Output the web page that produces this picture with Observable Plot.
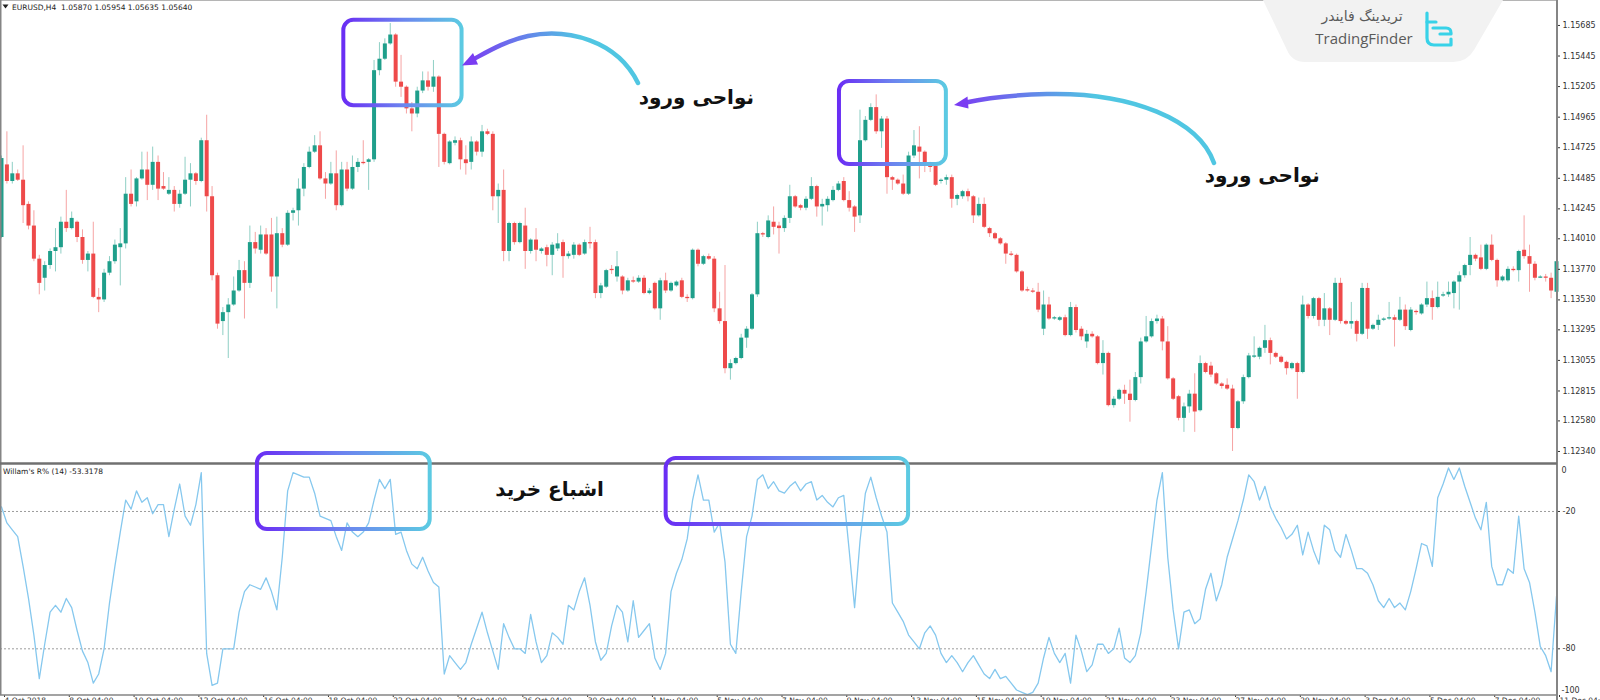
<!DOCTYPE html>
<html><head><meta charset="utf-8">
<script src="https://cdn.jsdelivr.net/npm/d3@7"></script>
<script src="https://cdn.jsdelivr.net/npm/@observablehq/plot@0.6"></script>
<style>
html,body{margin:0;padding:0;background:#fff;overflow:hidden;}
#wrap{position:relative;width:1600px;height:700px;overflow:hidden;background:#fff;}
#price{position:absolute;left:0;top:0;}
#ind{position:absolute;left:0;top:464px;}
#over{position:absolute;left:0;top:0;pointer-events:none;}
</style></head><body>
<div id="wrap"><div id="price"></div><div id="ind"></div><svg id="over" width="1600" height="700"></svg></div>
<script>
// ---------- data ----------
const symbolHeader = "EURUSD,H4  1.05870 1.05954 1.05635 1.05640";
const indicatorName = "Willam's R% (14) -53.3178";

const open = [
1.1402,1.1459,1.1446,1.1452,1.1447,1.1428,1.1411,1.1385,1.1370,1.1380,
1.1391,1.1394,1.1414,1.1409,1.1414,1.1402,1.1384,1.1389,1.1355,1.1353,
1.1374,1.1383,1.1394,1.1397,1.1436,1.1430,1.1448,1.1455,1.1443,1.1461,
1.1442,1.1436,1.1439,1.1428,1.1436,1.1447,1.1452,1.1446,1.1478,1.1434,
1.1372,1.1336,1.1343,1.1349,1.1360,1.1376,1.1366,1.1398,1.1392,1.1404,
1.1404,1.1371,1.1405,1.1396,1.1421,1.1423,1.1440,1.1457,1.1469,1.1474,
1.1448,1.1444,1.1452,1.1427,1.1455,1.1440,1.1457,1.1461,1.1461,1.1463,
1.1533,1.1542,1.1554,1.1561,1.1524,1.1520,1.1503,1.1499,1.1517,1.1525,
1.1520,1.1528,1.1483,1.1460,1.1476,1.1478,1.1463,1.1461,1.1477,1.1469,
1.1485,1.1483,1.1434,1.1439,1.1391,1.1413,1.1398,1.1411,
1.1391,1.1400,1.1391,1.1394,1.1388,1.1393,1.1398,1.1387,1.1388,1.1396,
1.1389,1.1398,1.1398,1.1358,1.1363,1.1377,1.1371,1.1371,1.1360,1.1368,
1.1367,1.1370,1.1358,1.1366,1.1346,1.1368,1.1360,1.1364,1.1368,1.1355,
1.1354,1.1392,1.1381,1.1387,1.1385,1.1346,1.1336,1.1299,1.1303,1.1307,
1.1323,1.1330,1.1357,1.1405,1.1402,1.1414,1.1411,1.1409,1.1417,1.1434,
1.1427,1.1425,1.1432,1.1442,1.1426,1.1427,1.1431,1.1439,1.1446,1.1431,
1.1426,1.1419,1.1478,1.1494,1.1504,1.1485,1.1495,1.1449,1.1447,1.1444,
1.1436,1.1466,1.1473,1.1469,1.1460,1.1458,1.1446,1.1447,1.1449,1.1432,
1.1434,1.1438,1.1434,1.1419,1.1428,1.1409,1.1405,1.1401,1.1397,1.1389,
1.1388,1.1375,1.1361,1.1360,1.1359,1.1330,
1.1349,1.1338,1.1337,1.1339,1.1325,1.1347,1.1330,1.1320,1.1326,1.1324,
1.1303,1.1311,1.1270,1.1275,1.1282,1.1279,1.1274,1.1292,1.1320,1.1324,
1.1336,1.1338,1.1320,1.1291,1.1277,1.1260,1.1269,1.1279,1.1266,1.1303,
1.1301,1.1295,1.1287,1.1286,1.1283,1.1252,1.1273,1.1292,1.1308,1.1308,
1.1315,1.1321,1.1311,1.1308,1.1304,1.1299,1.1303,1.1296,1.1349,1.1340,
1.1354,1.1337,1.1346,1.1337,1.1366,1.1336,1.1334,1.1336,1.1326,1.1362,
1.1330,1.1333,1.1337,1.1338,1.1339,1.1337,1.1345,1.1329,1.1344,1.1342,
1.1349,1.1354,1.1347,1.1356,1.1357,1.1358,1.1367,1.1372,1.1380,1.1388,
1.1386,1.1377,1.1396,1.1384,1.1368,1.1368,1.1377,1.1376,1.1392,1.1387,
1.1381,1.1370,1.1371,1.1370,1.1359];

const high = [
1.1466,1.1485,1.1461,1.1455,1.1474,1.1430,1.1423,1.1388,1.1383,1.1393,
1.1409,1.1418,1.1439,1.1422,1.1415,1.1408,1.1391,1.1414,1.1362,1.1377,
1.1387,1.1400,1.1409,1.1449,1.1455,1.1449,1.1469,1.1469,1.1473,1.1466,
1.1453,1.1449,1.1442,1.1439,1.1465,1.1460,1.1453,1.1480,1.1498,1.1442,
1.1374,1.1347,1.1354,1.1371,1.1384,1.1383,1.1411,1.1406,1.1411,1.1409,
1.1417,1.1418,1.1409,1.1423,1.1425,1.1448,1.1460,1.1473,1.1482,1.1485,
1.1453,1.1461,1.1470,1.1461,1.1461,1.1466,1.1464,1.1478,1.1464,1.1541,
1.1555,1.1558,1.1570,1.1562,1.1545,1.1521,1.1508,1.1520,1.1532,1.1532,
1.1541,1.1529,1.1484,1.1478,1.1481,1.1480,1.1474,1.1481,1.1478,1.1490,
1.1487,1.1485,1.1444,1.1455,1.1414,1.1414,1.1414,1.1425,
1.1401,1.1409,1.1394,1.1396,1.1398,1.1405,1.1400,1.1391,1.1398,1.1397,
1.1400,1.1410,1.1400,1.1366,1.1377,1.1380,1.1391,1.1372,1.1370,1.1371,
1.1372,1.1372,1.1362,1.1367,1.1370,1.1374,1.1367,1.1368,1.1370,1.1357,
1.1393,1.1393,1.1388,1.1389,1.1387,1.1359,1.1380,1.1306,1.1308,1.1326,
1.1332,1.1358,1.1414,1.1406,1.1419,1.1426,1.1414,1.1419,1.1443,1.1435,
1.1428,1.1434,1.1449,1.1443,1.1432,1.1434,1.1442,1.1446,1.1449,1.1438,
1.1427,1.1502,1.1497,1.1507,1.1514,1.1497,1.1497,1.1450,1.1448,1.1451,
1.1469,1.1486,1.1489,1.1470,1.1461,1.1460,1.1448,1.1451,1.1451,1.1436,
1.1439,1.1440,1.1435,1.1433,1.1433,1.1410,1.1406,1.1402,1.1398,1.1391,
1.1389,1.1376,1.1363,1.1362,1.1366,1.1360,
1.1355,1.1340,1.1340,1.1341,1.1351,1.1349,1.1332,1.1329,1.1328,1.1325,
1.1321,1.1312,1.1277,1.1283,1.1286,1.1290,1.1296,1.1323,1.1340,1.1338,
1.1341,1.1340,1.1332,1.1292,1.1278,1.1272,1.1282,1.1295,1.1309,1.1304,
1.1304,1.1296,1.1288,1.1291,1.1286,1.1274,1.1294,1.1311,1.1324,1.1316,
1.1333,1.1323,1.1312,1.1309,1.1305,1.1304,1.1304,1.1356,1.1350,1.1355,
1.1355,1.1358,1.1347,1.1370,1.1370,1.1337,1.1351,1.1337,1.1366,1.1366,
1.1334,1.1341,1.1339,1.1351,1.1341,1.1355,1.1349,1.1347,1.1345,1.1350,
1.1367,1.1360,1.1367,1.1359,1.1367,1.1368,1.1375,1.1381,1.1402,1.1389,
1.1396,1.1397,1.1404,1.1385,1.1372,1.1379,1.1379,1.1392,1.1419,1.1396,
1.1383,1.1372,1.1373,1.1374,1.1386];

const low = [
1.1401,1.1444,1.1444,1.1446,1.1413,1.1408,1.1383,1.1357,1.1360,1.1377,
1.1375,1.1389,1.1406,1.1408,1.1398,1.1381,1.1375,1.1354,1.1343,1.1351,
1.1372,1.1381,1.1364,1.1393,1.1426,1.1426,1.1447,1.1431,1.1439,1.1431,
1.1439,1.1435,1.1422,1.1425,1.1435,1.1426,1.1443,1.1445,1.1422,1.1368,
1.1330,1.1325,1.1307,1.1348,1.1359,1.1338,1.1362,1.1389,1.1389,1.1388,
1.1359,1.1346,1.1394,1.1395,1.1415,1.1411,1.1434,1.1456,1.1468,1.1447,
1.1432,1.1443,1.1423,1.1426,1.1438,1.1439,1.1453,1.1459,1.1439,1.1461,
1.1529,1.1541,1.1553,1.1520,1.1512,1.1499,1.1485,1.1496,1.1515,1.1517,
1.1516,1.1457,1.1459,1.1459,1.1474,1.1455,1.1451,1.1455,1.1466,1.1465,
1.1482,1.1423,1.1413,1.1383,1.1383,1.1396,1.1397,1.1377,
1.1389,1.1383,1.1389,1.1379,1.1372,1.1391,1.1370,1.1385,1.1385,1.1387,
1.1388,1.1393,1.1354,1.1354,1.1362,1.1373,1.1367,1.1357,1.1359,1.1366,
1.1366,1.1357,1.1357,1.1345,1.1337,1.1358,1.1359,1.1363,1.1354,1.1351,
1.1353,1.1379,1.1380,1.1384,1.1343,1.1334,1.1295,1.1290,1.1302,1.1306,
1.1315,1.1329,1.1355,1.1402,1.1401,1.1404,1.1389,1.1406,1.1413,1.1425,
1.1423,1.1423,1.1431,1.1418,1.1411,1.1422,1.1430,1.1438,1.1430,1.1422,
1.1406,1.1413,1.1477,1.1493,1.1483,1.1472,1.1436,1.1439,1.1443,1.1435,
1.1435,1.1464,1.1448,1.1453,1.1453,1.1442,1.1444,1.1443,1.1425,1.1427,
1.1432,1.1430,1.1413,1.1418,1.1409,1.1402,1.1400,1.1396,1.1381,1.1387,
1.1374,1.1359,1.1359,1.1358,1.1343,1.1325,
1.1337,1.1337,1.1336,1.1324,1.1324,1.1327,1.1321,1.1315,1.1323,1.1302,
1.1294,1.1269,1.1268,1.1274,1.1271,1.1257,1.1273,1.1287,1.1319,1.1323,
1.1334,1.1313,1.1290,1.1274,1.1258,1.1249,1.1264,1.1249,1.1265,1.1295,
1.1292,1.1286,1.1283,1.1282,1.1234,1.1251,1.1271,1.1291,1.1307,1.1306,
1.1311,1.1302,1.1307,1.1303,1.1294,1.1298,1.1275,1.1295,1.1338,1.1338,
1.1332,1.1332,1.1325,1.1336,1.1334,1.1333,1.1330,1.1320,1.1325,1.1322,
1.1329,1.1329,1.1336,1.1337,1.1316,1.1336,1.1329,1.1328,1.1341,1.1341,
1.1347,1.1337,1.1346,1.1355,1.1355,1.1346,1.1345,1.1370,1.1372,1.1383,
1.1376,1.1376,1.1383,1.1363,1.1367,1.1367,1.1375,1.1367,1.1385,1.1359,
1.1368,1.1370,1.1367,1.1354,1.1357];

const close = [
1.1464,1.1446,1.1452,1.1447,1.1427,1.1411,1.1385,1.1366,1.1380,1.1391,
1.1394,1.1414,1.1409,1.1417,1.1402,1.1384,1.1389,1.1355,1.1353,1.1374,
1.1383,1.1396,1.1397,1.1436,1.1428,1.1448,1.1455,1.1443,1.1461,1.1440,
1.1440,1.1439,1.1428,1.1436,1.1447,1.1452,1.1446,1.1478,1.1434,1.1372,
1.1334,1.1343,1.1349,1.1360,1.1376,1.1366,1.1398,1.1393,1.1404,1.1389,
1.1371,1.1405,1.1396,1.1421,1.1423,1.1440,1.1457,1.1469,1.1474,1.1448,
1.1444,1.1452,1.1427,1.1455,1.1440,1.1457,1.1461,1.1460,1.1463,1.1533,
1.1542,1.1554,1.1561,1.1524,1.1520,1.1503,1.1499,1.1517,1.1525,1.1520,
1.1528,1.1483,1.1461,1.1477,1.1478,1.1463,1.1460,1.1477,1.1469,1.1485,
1.1483,1.1434,1.1439,1.1391,1.1413,1.1398,1.1413,1.1391,
1.1400,1.1392,1.1393,1.1388,1.1396,1.1397,1.1387,1.1389,1.1396,1.1388,
1.1398,1.1397,1.1358,1.1364,1.1376,1.1376,1.1379,1.1360,1.1368,1.1367,
1.1370,1.1358,1.1360,1.1346,1.1368,1.1360,1.1366,1.1367,1.1355,1.1354,
1.1392,1.1381,1.1387,1.1385,1.1346,1.1336,1.1299,1.1303,1.1307,1.1323,
1.1330,1.1357,1.1405,1.1404,1.1415,1.1410,1.1409,1.1417,1.1434,1.1426,
1.1425,1.1432,1.1442,1.1426,1.1428,1.1432,1.1439,1.1444,1.1431,1.1425,
1.1418,1.1478,1.1494,1.1504,1.1485,1.1495,1.1449,1.1447,1.1444,1.1436,
1.1466,1.1474,1.1469,1.1460,1.1457,1.1443,1.1447,1.1449,1.1432,1.1435,
1.1438,1.1434,1.1419,1.1428,1.1410,1.1405,1.1401,1.1397,1.1389,1.1388,
1.1375,1.1360,1.1360,1.1359,1.1345,1.1349,
1.1338,1.1339,1.1339,1.1325,1.1347,1.1329,1.1324,1.1326,1.1324,1.1303,
1.1311,1.1270,1.1275,1.1282,1.1279,1.1274,1.1292,1.1320,1.1324,1.1336,
1.1338,1.1320,1.1291,1.1275,1.1260,1.1269,1.1279,1.1265,1.1303,1.1296,
1.1294,1.1287,1.1285,1.1283,1.1252,1.1273,1.1292,1.1309,1.1309,1.1315,
1.1321,1.1311,1.1308,1.1304,1.1299,1.1303,1.1296,1.1349,1.1340,1.1354,
1.1337,1.1346,1.1337,1.1366,1.1336,1.1334,1.1336,1.1326,1.1362,1.1330,
1.1333,1.1337,1.1338,1.1339,1.1337,1.1345,1.1332,1.1345,1.1343,1.1349,
1.1354,1.1347,1.1355,1.1357,1.1359,1.1367,1.1372,1.1380,1.1388,1.1385,
1.1377,1.1396,1.1384,1.1368,1.1371,1.1377,1.1376,1.1391,1.1387,1.1381,
1.1370,1.1371,1.1370,1.1360,1.1383];

// Williams %R (14), one value per candle
const wpr = [
-18,-25,-28,-31,-44,-58,-74,-93,-78,-64,
-61,-64,-58,-62,-72,-81,-86,-95,-91,-80,
-60,-44,-29,-15,-19,-11,-16,-14,-21,-17,
-17,-31,-19,-8,-22,-26,-17,-3,-82,-96,
-95,-80,-80,-80,-64,-55,-52,-53,-54,-49,
-55,-63,-40,-11,-3,-4,-5,-5,-12,-22,
-23,-24,-31,-37,-25,-29,-31,-29,-25,-15,
-6,-10,-6,-30,-29,-37,-43,-45,-40,-46,
-51,-53,-91,-83,-86,-89,-86,-78,-71,-64,
-73,-81,-89,-69,-75,-80,-80,-82,-65,-77,
-86,-83,-73,-75,-78,-61,-63,-55,-49,-61,
-77,-85,-82,-70,-61,-64,-77,-59,-75,-72,
-69,-84,-89,-82,-55,-47,-41,-32,-15,-4,
-15,-15,-29,-25,-42,-78,-82,-55,-31,-22,
-6,-4,-10,-7,-11,-12,-9,-7,-11,-8,
-7,-15,-13,-16,-18,-14,-13,-37,-62,-33,
-12,-5,-14,-22,-29,-60,-64,-68,-74,-77,
-80,-73,-70,-74,-82,-86,-83,-86,-90,-86,
-83,-87,-91,-93,-89,-93,-92,-95,-98,-99,
-100,-99,-95,-84,-75,-82,-86,-82,-95,-74,
-81,-90,-87,-78,-78,-82,-80,-71,-84,-86,
-83,-73,-55,-35,-15,-3,-40,-63,-80,-64,
-63,-69,-67,-54,-47,-59,-52,-40,-32,-24,
-15,-4,-7,-15,-9,-18,-23,-27,-32,-30,
-26,-39,-29,-37,-43,-26,-28,-37,-40,-30,
-37,-45,-45,-47,-52,-59,-62,-58,-62,-60,
-63,-55,-45,-34,-35,-44,-14,-8,-1,-6,
-1,-9,-16,-23,-28,-16,-44,-52,-52,-45,
-47,-22,-45,-51,-64,-79,-83,-90,-57];

const priceTicks = [1.15685,1.15445,1.15205,1.14965,1.14725,1.14485,1.14245,1.14010,
  1.13770,1.13530,1.13295,1.13055,1.12815,1.12580,1.12340];
const wprLevels = [-20, -80];
const wprTopLabel = [0];
const wprBottomLabel = [-100];
const dateTickIndex = [0,12,24,36,48,60,72,84,96,108,120,132,144,156,168,180,192,204,216,228,240,252,264,276,288];
const dateTickLabels = ["4 Oct 2018","8 Oct 04:00","10 Oct 04:00","12 Oct 04:00","16 Oct 04:00","18 Oct 04:00",
  "22 Oct 04:00","24 Oct 04:00","26 Oct 04:00","30 Oct 04:00","1 Nov 04:00","5 Nov 04:00","7 Nov 04:00",
  "9 Nov 04:00","13 Nov 04:00","15 Nov 04:00","19 Nov 04:00","21 Nov 04:00","23 Nov 04:00","27 Nov 04:00",
  "29 Nov 04:00","3 Dec 04:00","5 Dec 04:00","7 Dec 04:00","11 Dec 04:00"];

// annotation boxes (candle index range, value range) and labels
const boxPane = ["price","price","ind","ind"];
const boxFrom = [63.4, 155.2, 47.4, 123.1];
const boxTo   = [85.3, 175.0, 79.4, 168.0];
const boxHigh = [1.15725, 1.15245, 5.3, 3.2];
const boxLow  = [1.15055, 1.14593, -27.9, -25.7];
const noteText = ["نواحی ورود", "نواحی ورود", "اشباع خرید"];
const notePane = ["price","price","ind"];
const noteIndex = [128.8, 233.6, 101.6];
const noteValue = [1.15119, 1.14503, -10.4];

// ---------- build ----------
const GREEN = "#1f9f8b", RED = "#ee4a4a", LINE = "#86c8ee", AX = "#333";
const candles = open.map((o, i) => ({i, o, h: high[i], l: low[i], c: close[i]}));
const ups = candles.filter(d => d.c >= d.o);
const downs = candles.filter(d => d.c < d.o);
const N = candles.length;
const xOpts = {domain: [0, N - 1], range: [1, 1556], label: null};
const baseStyle = {background: "transparent", fontFamily: "DejaVu Sans", fontSize: "8px", color: AX};

const price = Plot.plot({
  width: 1600, height: 464,
  marginTop: 0, marginRight: 44, marginBottom: 0, marginLeft: 0,
  x: {...xOpts, axis: null},
  y: {domain: [1.122377, 1.15881], range: [464, 0], label: null},
  style: baseStyle,
  marks: [
    Plot.ruleX(ups, {x: "i", y1: "l", y2: "h", stroke: GREEN, strokeOpacity: 0.5, strokeWidth: 1}),
    Plot.ruleX(downs, {x: "i", y1: "l", y2: "h", stroke: RED, strokeOpacity: 0.5, strokeWidth: 1}),
    Plot.ruleX(ups, {x: "i", y1: "o", y2: "c", stroke: GREEN, strokeWidth: 4}),
    Plot.ruleX(downs, {x: "i", y1: "o", y2: "c", stroke: RED, strokeWidth: 4}),
    Plot.axisY(priceTicks, {anchor: "right", label: null, tickSize: 3, tickPadding: 3, color: AX, fontSize: 8,
      tickFormat: d => d.toFixed(5)})
  ]
});
document.getElementById("price").appendChild(price);

const wprData = wpr.map((v, i) => ({i, v}));
const labelOf = new Map(dateTickIndex.map((d, k) => [d, dateTickLabels[k]]));
const ind = Plot.plot({
  width: 1600, height: 236,
  marginTop: 0, marginRight: 44, marginBottom: 5, marginLeft: 0,
  x: xOpts,
  y: {domain: [-100, 0], range: [230.1, 1.2], label: null},
  style: baseStyle,
  marks: [
    Plot.ruleY(wprLevels, {stroke: "#9c9c9c", strokeDasharray: "2,2", strokeWidth: 1}),
    Plot.line(wprData, {x: "i", y: "v", stroke: LINE, strokeWidth: 1.3}),
    Plot.axisY(wprLevels, {anchor: "right", label: null, tickSize: 3, tickPadding: 3, color: AX, fontSize: 8, tickFormat: d => String(d)}),
    Plot.axisY(wprTopLabel, {anchor: "right", label: null, tickSize: 0, tickPadding: 5, dy: 5, color: AX, fontSize: 8, tickFormat: d => String(d)}),
    Plot.axisY(wprBottomLabel, {anchor: "right", label: null, tickSize: 0, tickPadding: 5, dy: -4, color: AX, fontSize: 8, tickFormat: d => String(d)}),
    Plot.axisX(dateTickIndex, {anchor: "bottom", label: null, tickSize: 2, tickPadding: 0, textAnchor: "start", dx: 3,
      color: AX, fontSize: 7.5, tickFormat: d => labelOf.get(d)})
  ]
});
document.getElementById("ind").appendChild(ind);

// ---------- overlay (frame, annotations, logo) ----------
const sx = price.scale("x"), sy = price.scale("y"), iy = ind.scale("y");
const X = v => sx.apply(v);
const Y = (pane, v) => pane === "price" ? sy.apply(v) : 464 + iy.apply(v);

const svg = d3.select("#over");
const defs = svg.append("defs");
function grad(id, attrs, stops) {
  const g = defs.append("linearGradient").attr("id", id);
  for (const k in attrs) g.attr(k, attrs[k]);
  stops.forEach(([o, c]) => g.append("stop").attr("offset", o).attr("stop-color", c));
}
grad("gBox", {x1: 0, y1: 0, x2: 1, y2: 0}, [[0, "#6a2ef4"], [0.5, "#6c84ef"], [1, "#5ccae2"]]);
grad("gA1", {gradientUnits: "userSpaceOnUse", x1: 468, y1: 0, x2: 580, y2: 0}, [[0, "#7a3cf2"], [1, "#50c6e2"]]);
grad("gA2", {gradientUnits: "userSpaceOnUse", x1: 958, y1: 0, x2: 1095, y2: 0}, [[0, "#7a3cf2"], [1, "#50c6e2"]]);

// frame
const frame = svg.append("g").attr("stroke", "#858585").attr("fill", "none");
frame.append("line").attr("x1", 0).attr("x2", 1557).attr("y1", 0.5).attr("y2", 0.5).attr("stroke", "#b5b5b5").attr("stroke-width", 1);
frame.append("line").attr("x1", 0.75).attr("x2", 0.75).attr("y1", 0).attr("y2", 695).attr("stroke-width", 1.5);
frame.append("line").attr("x1", 1557).attr("x2", 1557).attr("y1", 0).attr("y2", 700).attr("stroke-width", 2);
frame.append("line").attr("x1", 0).attr("x2", 1557).attr("y1", 463.5).attr("y2", 463.5).attr("stroke", "#707070").attr("stroke-width", 2.5);
frame.append("line").attr("x1", 0).attr("x2", 1557).attr("y1", 695).attr("y2", 695).attr("stroke-width", 1.5);

// header texts
svg.append("path").attr("d", "M2.5,4.5 L8.5,4.5 L5.5,8.5 Z").attr("fill", "#222");
svg.append("text").attr("x", 12).attr("y", 9.5).attr("font-family", "DejaVu Sans").attr("font-size", 7.5)
  .attr("fill", "#222").style("white-space", "pre").text(symbolHeader);
svg.append("text").attr("x", 3).attr("y", 474).attr("font-family", "DejaVu Sans").attr("font-size", 7.5)
  .attr("fill", "#222").text(indicatorName);

// logo box
svg.append("path").attr("d", "M1263,0 L1503,0 L1474,50 Q1467,62 1453,62 L1305,62 Q1292,62 1287,50 Z").attr("fill", "#f2f2f2");
svg.append("text").attr("x", 1362).attr("y", 21).attr("text-anchor", "middle").attr("font-family", "DejaVu Sans")
  .attr("font-size", 14).attr("fill", "#5a5a5a").text("تریدینگ فایندر");
svg.append("text").attr("x", 1364).attr("y", 44).attr("text-anchor", "middle").attr("font-family", "Open Sans")
  .attr("font-size", 15).attr("fill", "#5a5a5a").text("TradingFinder");
const icon = svg.append("g").attr("fill", "none").attr("stroke", "#38d2e8").attr("stroke-width", 3.2)
  .attr("stroke-linecap", "round").attr("stroke-linejoin", "round");
icon.append("path").attr("d", "M1427,13 L1427,38 Q1427,45 1434,45 L1451,45 L1451,39");
icon.append("path").attr("d", "M1433,28 L1446,28 Q1451,28 1451,33 L1451,34 L1440,34");
icon.append("path").attr("d", "M1427,22 L1436,22");

// boxes
boxPane.forEach((p, k) => {
  const x1 = X(boxFrom[k]), x2 = X(boxTo[k]);
  const y1 = Y(p, boxHigh[k]), y2 = Y(p, boxLow[k]);
  svg.append("rect").attr("x", x1).attr("y", y1).attr("width", x2 - x1).attr("height", y2 - y1)
    .attr("rx", 10).attr("ry", 10).attr("fill", "none").attr("stroke", "url(#gBox)").attr("stroke-width", 4);
});

// arrows
svg.append("path").attr("d", "M638,83 C617,40 567,28 528,36 C505,41 487,52 472,60")
  .attr("fill", "none").attr("stroke", "url(#gA1)").attr("stroke-width", 4.5).attr("stroke-linecap", "round");
svg.append("path").attr("d", "M462,65.5 L473,53 L478,64.5 Z").attr("fill", "#7a3cf2");
svg.append("path").attr("d", "M1214,163 C1199,120 1132,92 1047,94 C1008,95 982,99 966,102.5")
  .attr("fill", "none").attr("stroke", "url(#gA2)").attr("stroke-width", 4.5).attr("stroke-linecap", "round");
svg.append("path").attr("d", "M954,105 L967.5,96.5 L968.5,108.5 Z").attr("fill", "#7a3cf2");

// notes
noteText.forEach((t, k) => {
  svg.append("text").attr("x", X(noteIndex[k])).attr("y", Y(notePane[k], noteValue[k]))
    .attr("text-anchor", "middle").attr("dominant-baseline", "central")
    .attr("font-family", "DejaVu Sans").attr("font-weight", "bold").attr("font-size", 20)
    .attr("fill", "#111").text(t);
});
</script>
</body></html>
